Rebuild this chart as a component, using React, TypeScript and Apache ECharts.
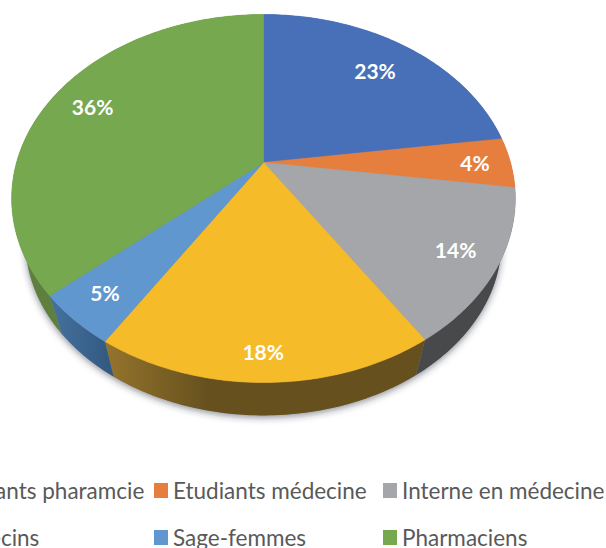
import React, { useEffect, useRef } from "react";
import * as echarts from "echarts";

const categories = ["Etudiants pharamcie", "Etudiants médecine", "Interne en médecine", "Médecins", "Sage-femmes", "Pharmaciens"];
const values = [22.8, 4.4, 13.6, 18.2, 4.6, 36.4];
const labels = ["23%", "4%", "14%", "18%", "5%", "36%"];
const topColors = ["#4870B8", "#E67F3E", "#A5A6A9", "#F6BB28", "#5F97CE", "#76A850"];

const legendColumns = [
  { names: [categories[0], categories[3]], left: -75 },
  { names: [categories[1], categories[4]], left: 154 },
  { names: [categories[2], categories[5]], left: 383 },
];

// Perspective pie geometry
const APEX_X = 263.5;
const APEX_Y = 162.5;
const RX = 247;
const RY = 177;
const K = 0.1956;
const BASE_SCALE = 0.945;
const BASE_DROP = 45;
const labelRadius = [0.75, 0.85, 0.84, 0.89, 0.85, 0.82];
const labelShift = [[2, -2], [1.5, 0], [0, 0], [-2, -2], [-2, -1], [2, 0]];

const project = (fraction: number, r = 1): [number, number] => {
  const a = fraction * Math.PI * 2;
  const u = Math.sin(a) * r;
  const v = Math.cos(a) * r;
  const d = 1 + K * v;
  return [(RX * u) / d, (-RY * v) / d];
};
const topPoint = (f: number, r = 1): [number, number] => {
  const [x, y] = project(f, r);
  return [APEX_X + x, APEX_Y + y];
};
const basePoint = (f: number): [number, number] => {
  const [x, y] = project(f);
  return [APEX_X + x * BASE_SCALE, APEX_Y + y * BASE_SCALE + BASE_DROP];
};
const arc = (fn: (f: number) => [number, number], from: number, to: number) => {
  const n = Math.max(2, Math.ceil((to - from) * 360));
  const pts: [number, number][] = [];
  for (let i = 0; i <= n; i++) pts.push(fn(from + ((to - from) * i) / n));
  return pts;
};

const sideFills = (): any[] => [
  "#3B5C96",
  "#A85A2A",
  "#48494B",
  new echarts.graphic.LinearGradient(0, 0, 1, 0, [
    { offset: 0, color: "#95742C" },
    { offset: 0.32, color: "#66511E" },
    { offset: 1, color: "#66511E" },
  ]),
  new echarts.graphic.LinearGradient(0, 0, 1, 0, [
    { offset: 0, color: "#45729F" },
    { offset: 1, color: "#33577E" },
  ]),
  "#5E7F3E",
];

export default function App() {
  const ref = useRef<HTMLDivElement>(null);
  useEffect(() => {
    if (!ref.current) return;
    const chart = echarts.init(ref.current, undefined, { renderer: "svg" });
    const total = values.reduce((a, b) => a + b, 0);
    const sides = sideFills();
    const series = categories.map((name, i) => ({
      type: "custom",
      name,
      coordinateSystem: "none",
      silent: true,
      itemStyle: { color: topColors[i] },
      data: [[values[i]]],
      renderItem: (_p: any, api: any) => {
        const v = api.value(0) as number;
        const before = values.slice(0, i).reduce((a, b) => a + b, 0);
        const from = before / total;
        const to = (before + v) / total;
        const children: any[] = [];
        if (i === 0) {
          children.push({
            type: "polygon",
            z2: 0,
            shape: { points: arc(basePoint, 0, 1) },
            style: {
              fill: "#8a8d90",
              shadowBlur: 7,
              shadowColor: "rgba(40,50,60,0.55)",
              shadowOffsetY: 2,
            },
          });
        }
        const top = arc(topPoint, from, to);
        const base = arc(basePoint, from, to);
        children.push({
          type: "polygon",
          z2: 1,
          shape: { points: [...top, ...base.reverse()] },
          style: { fill: sides[i] },
        });
        children.push({
          type: "polygon",
          z2: 2,
          shape: { points: [[APEX_X, APEX_Y], ...top] },
          style: { fill: topColors[i], stroke: topColors[i], lineWidth: 0.5 },
        });
        const [lx, ly] = topPoint((from + to) / 2, labelRadius[i]);
        children.push({
          type: "text",
          z2: 3,
          x: lx + labelShift[i][0],
          y: ly + labelShift[i][1],
          style: {
            text: labels[i],
            fill: "#FFFFFF",
            font: "bold 21px Lato",
            align: "center",
            verticalAlign: "middle",
          },
        });
        return { type: "group", children };
      },
    }));
    chart.setOption({
      animation: false,
      backgroundColor: "#FFFFFF",
      legend: legendColumns.map((c) => ({
        data: c.names,
        left: c.left,
        top: 479,
        height: 90,
        orient: "vertical",
        icon: "rect",
        itemWidth: 14,
        itemHeight: 15,
        itemGap: 24,
        padding: 0,
        selectedMode: false,
        textStyle: { color: "#595959", fontFamily: "Lato", fontSize: 22.5 },
      })),
      series,
    });
    return () => chart.dispose();
  }, []);
  return <div ref={ref} style={{ position: "absolute", left: 0, top: 0, width: 606, height: 548 }} />;
}
